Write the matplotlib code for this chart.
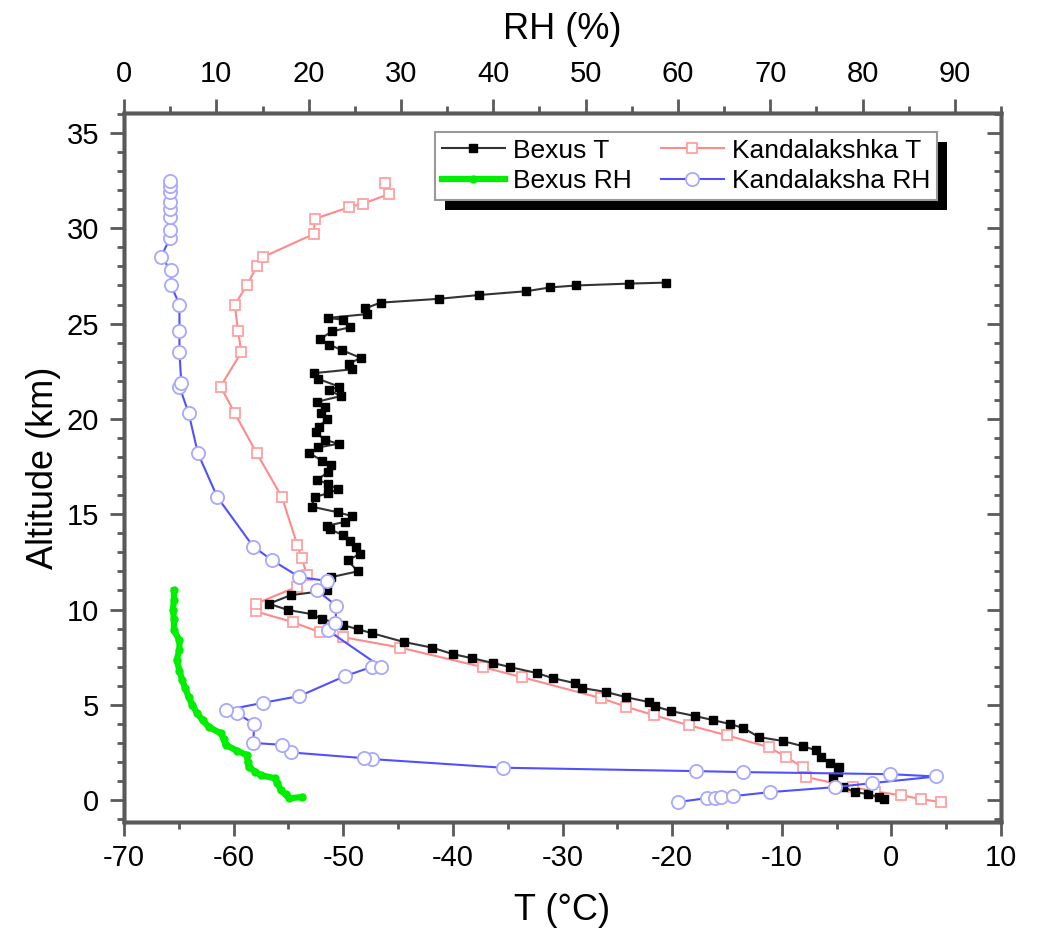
import matplotlib
matplotlib.use("Agg")
import matplotlib.pyplot as plt
from matplotlib.ticker import MultipleLocator
from matplotlib.patches import Rectangle
from matplotlib.transforms import IdentityTransform

plt.rcParams['font.family'] = ['Liberation Sans', 'DejaVu Sans']
plt.rcParams['axes.unicode_minus'] = False

# Bexus temperature profile (altitude km, T degC)
bexus_alt = [0.05, 0.16, 0.31, 0.42, 0.68, 1.21, 1.47, 1.73, 1.94, 2.26,
             2.62, 2.83, 3.10, 3.31, 3.78, 3.99, 4.20, 4.41, 4.67, 4.93,
             5.14, 5.40, 5.67, 5.88, 6.14, 6.40, 6.66, 6.98, 7.19, 7.45,
             7.66, 8.00, 8.30, 8.76, 8.97, 9.18, 9.50, 9.76, 9.97, 10.30,
             10.75, 11.00, 11.70, 12.00, 12.60, 12.90, 13.30, 13.60, 13.90, 14.20,
             14.40, 14.60, 14.90, 15.10, 15.40, 15.90, 16.10, 16.30, 16.60, 16.80,
             17.20, 17.60, 17.80, 18.20, 18.50, 18.70, 18.90, 19.30, 19.60, 20.00,
             20.30, 20.60, 20.90, 21.20, 21.50, 21.70, 22.10, 22.40, 22.60, 22.90,
             23.20, 23.60, 23.90, 24.20, 24.60, 24.80, 25.20, 25.30, 25.50, 25.80,
             26.10, 26.30, 26.50, 26.70, 26.90, 27.00, 27.10, 27.15]
bexus_t = [-0.7, -1.1, -2.1, -3.3, -4.4, -5.3, -4.9, -4.8, -5.6, -6.4,
           -6.9, -8.1, -9.9, -12.1, -13.5, -14.7, -16.3, -17.9, -20.1, -21.6,
           -22.1, -24.2, -26.0, -28.2, -28.9, -30.9, -32.3, -34.8, -36.3, -38.3,
           -40.0, -41.9, -44.5, -47.4, -48.7, -50.0, -51.9, -52.9, -55.0, -56.8,
           -54.8, -51.5, -51.1, -48.7, -49.6, -48.5, -48.8, -49.4, -50.0, -51.2,
           -51.5, -49.8, -49.2, -50.5, -52.9, -52.6, -51.4, -50.5, -51.4, -52.4,
           -51.4, -51.1, -51.9, -53.1, -52.3, -50.4, -51.7, -52.5, -52.2, -51.5,
           -52.0, -51.7, -52.4, -50.2, -51.3, -50.4, -52.3, -52.7, -49.2, -49.5,
           -48.4, -50.1, -51.3, -52.1, -51.0, -49.4, -50.0, -51.4, -47.8, -48.0,
           -46.6, -41.3, -37.6, -33.3, -31.1, -28.8, -23.9, -20.6]

# Bexus relative humidity (altitude km, RH %)
bexus_rh_alt = [0.16, 0.10, 0.30, 0.52, 0.90, 1.15, 1.31, 1.50, 1.73, 2.00,
                2.36, 2.60, 2.90, 3.20, 3.50, 3.83, 4.20, 4.56, 5.00, 5.40,
                5.90, 6.30, 6.80, 7.35, 7.90, 8.40, 8.90, 9.50, 10.00, 10.50, 11.00]
bexus_rh = [19.3, 17.9, 17.5, 17.0, 16.6, 16.3, 14.8, 14.2, 13.5, 13.4,
            13.3, 12.2, 11.0, 10.8, 10.5, 9.2, 8.5, 7.9, 7.4, 7.0,
            6.6, 6.3, 6.0, 5.7, 6.0, 6.0, 5.4, 5.4, 5.3, 5.4, 5.4]

# Kandalaksha sounding temperature
kand_t_alt = [-0.10, 0.05, 0.26, 0.45, 0.68, 1.21, 1.73, 2.26, 2.78, 3.40,
              3.93, 4.46, 4.90, 5.35, 6.45, 6.98, 8.00, 8.55, 8.80, 9.34,
              9.90, 10.30, 11.20, 11.80, 12.70, 13.40, 15.90, 18.20, 20.30, 21.70,
              23.50, 24.60, 26.00, 27.00, 28.00, 28.50, 29.70, 30.50, 31.10, 31.30,
              31.80, 32.40]
kand_t = [4.5, 2.7, 0.9, -1.5, -3.5, -7.8, -8.1, -9.6, -11.2, -15.0,
          -18.5, -21.7, -24.2, -26.5, -33.7, -37.3, -44.8, -50.0, -52.1, -54.6,
          -58.0, -58.0, -54.2, -53.3, -53.8, -54.2, -55.6, -57.9, -59.9, -61.2,
          -59.3, -59.6, -59.9, -58.8, -57.9, -57.3, -52.7, -52.6, -49.5, -48.2,
          -45.8, -46.2]

# Kandalaksha sounding relative humidity
kand_rh_alt = [-0.10, 0.10, 0.13, 0.16, 0.21, 0.42, 0.68, 0.89, 1.24, 1.36,
               1.47, 1.52, 1.70, 2.15, 2.20, 2.50, 2.90, 3.00, 4.00, 4.56,
               4.72, 5.10, 5.46, 6.50, 7.00, 7.00, 8.90, 9.30, 10.20, 11.00,
               11.50, 11.70, 12.60, 13.30, 15.90, 18.20, 20.30, 21.70, 21.90, 23.50,
               24.60, 26.00, 27.00, 27.80, 28.50, 29.50, 29.90, 30.60, 31.00, 31.40,
               31.90, 32.20, 32.50]
kand_rh = [60.0, 63.1, 64.0, 64.7, 66.0, 70.0, 77.0, 81.0, 88.0, 83.0,
           67.0, 62.0, 41.0, 26.9, 26.0, 18.1, 17.1, 14.0, 14.1, 12.2,
           11.0, 15.0, 19.0, 23.9, 26.9, 27.8, 22.1, 22.9, 23.0, 20.9,
           22.0, 19.0, 16.0, 14.0, 10.1, 8.0, 7.0, 6.0, 6.2, 6.0,
           6.0, 6.0, 5.1, 5.1, 4.0, 5.0, 5.0, 5.0, 5.0, 5.0,
           5.0, 5.0, 5.0]

spine_col = '#5a5a5a'

fig = plt.figure(figsize=(10.38, 9.30), dpi=100)
ax = fig.add_axes([0.1195, 0.1161, 0.8449, 0.7624])
axr = ax.twinx()
axt = ax.twiny()

l2, = ax.plot(kand_t, kand_t_alt, color='#ff8a8a', lw=1.5, marker='s', ms=6.5,
              mfc='white', mec='#ffa0a0', mew=1.3, label='Kandalakshka T')
l1, = ax.plot(bexus_t, bexus_alt, color='#333333', lw=1.5, marker='s', ms=6,
              mfc='black', mec='black', label='Bexus T')
l3, = axt.plot(bexus_rh, bexus_rh_alt, color='#00ee00', lw=4.5, marker='o', ms=5,
               mfc='#00ee00', mec='#00ee00', label='Bexus RH')
l4, = axt.plot(kand_rh, kand_rh_alt, color='#5050ff', lw=1.5, marker='o', ms=9.5,
               mfc='white', mec='#a8a8ff', mew=1.3, label='Kandalaksha RH')

ax.set_xlim(-70, 10)
ax.set_ylim(-1.15, 36.05)
axr.set_ylim(-1.15, 36.05)
axt.set_xlim(0, 95)

ax.xaxis.set_major_locator(MultipleLocator(10))
ax.xaxis.set_minor_locator(MultipleLocator(5))
ax.yaxis.set_major_locator(MultipleLocator(5))
ax.yaxis.set_minor_locator(MultipleLocator(1))
axr.yaxis.set_major_locator(MultipleLocator(5))
axr.yaxis.set_minor_locator(MultipleLocator(1))
axt.xaxis.set_major_locator(MultipleLocator(10))
axt.xaxis.set_minor_locator(MultipleLocator(5))

for a in (ax, axr, axt):
    for s in a.spines.values():
        s.set_color(spine_col)
        s.set_linewidth(2.5)

ax.tick_params(axis='both', which='major', direction='out', length=10, width=2,
               color=spine_col, labelsize=21)
ax.tick_params(axis='both', which='minor', direction='out', length=5, width=2,
               color=spine_col)
ax.tick_params(axis='x', pad=6)
ax.tick_params(axis='y', pad=8)
axr.tick_params(axis='y', which='major', direction='in', length=10, width=2,
                color=spine_col, labelright=False)
axr.tick_params(axis='y', which='minor', direction='in', length=5, width=2,
                color=spine_col)
axt.tick_params(axis='x', which='major', direction='out', length=10, width=2,
                color=spine_col, labelsize=21, pad=8)
axt.tick_params(axis='x', which='minor', direction='out', length=5, width=2,
                color=spine_col)

ax.set_xlabel('T (°C)', fontsize=26, labelpad=15)
ax.set_ylabel('Altitude (km)', fontsize=26, labelpad=4)
axt.set_xlabel('RH (%)', fontsize=26, labelpad=15)

leg = axt.legend([l1, l3, l2, l4], ['Bexus T', 'Bexus RH', 'Kandalakshka T', 'Kandalaksha RH'],
                 ncol=2, loc='upper left', bbox_to_anchor=(435 / 1038, 1 - 132 / 930),
                 bbox_transform=fig.transFigure, borderaxespad=0, fontsize=19,
                 handlelength=2.4, handletextpad=0.3, columnspacing=1.1,
                 labelspacing=0.25, borderpad=0.25, fancybox=False, framealpha=1,
                 edgecolor='#999999', numpoints=1)
leg.get_frame().set_linewidth(1.5)

fig.canvas.draw()
bb = leg.get_window_extent()
shadow = Rectangle((bb.x0 + 10, bb.y0 - 10), bb.width, bb.height, transform=IdentityTransform(),
                   facecolor='black', edgecolor='none', zorder=4.5, clip_on=False)
axt.add_patch(shadow)

fig.savefig('out.png', dpi=100)
